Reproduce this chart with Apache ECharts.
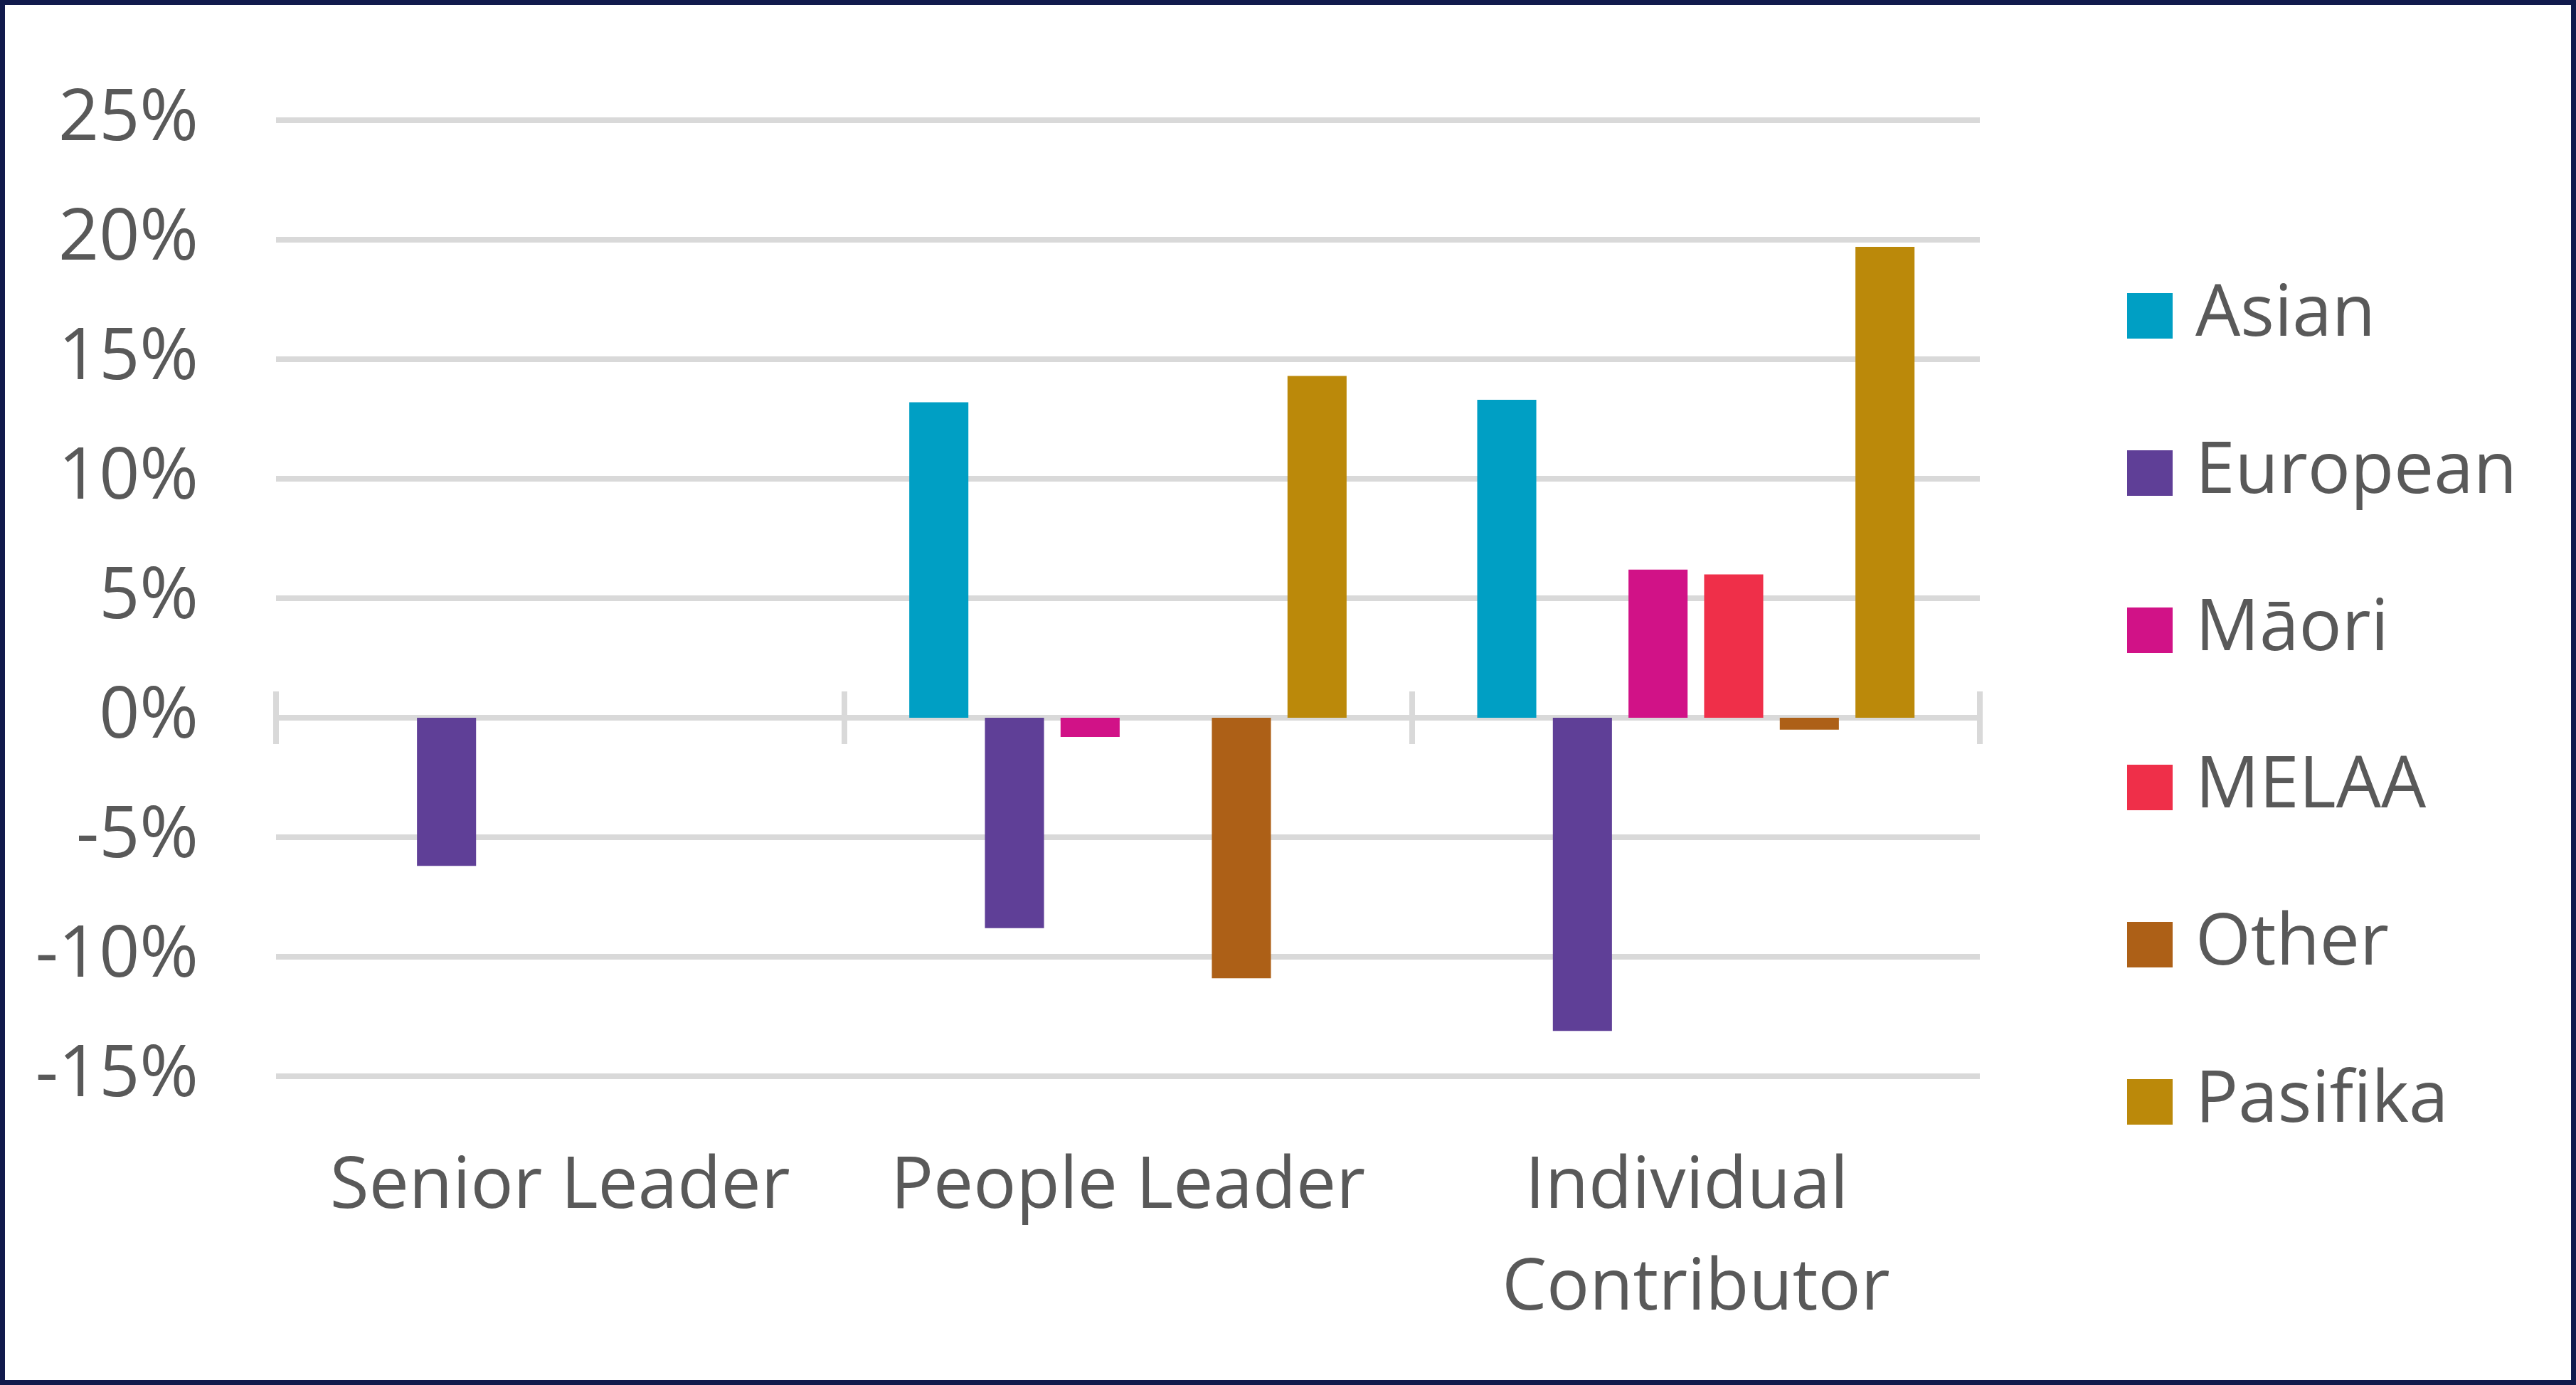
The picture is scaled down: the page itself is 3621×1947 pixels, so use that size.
<!DOCTYPE html>
<html>
<head>
<meta charset="utf-8">
<script src="https://cdn.jsdelivr.net/npm/echarts@6/dist/echarts.min.js"></script>
<style>
    html, body { margin: 0; padding: 0; background: #fff; }
    #main { position: absolute; left: 0; top: 0; width: 3621px; height: 1947px; }
    #frame {
        position: absolute; left: 0; top: 0; width: 3621px; height: 1947px;
        box-sizing: border-box; border: 7px solid #111a4c; pointer-events: none;
    }
</style>
</head>
<body>
<div id="main"></div>
<div id="frame"></div>
<script>
var categories = ['Senior Leader', 'People Leader', 'Individual Contributor'];

var asian    = [null, 13.2, 13.3];
var european = [-6.2, -8.8, -13.1];
var maori    = [null, -0.8, 6.2];
var melaa    = [null, null, 6.0];
var other    = [null, -10.9, -0.5];
var pasifika = [null, 14.3, 19.7];

var yMin = -15, yMax = 25, yStep = 5;

var color = ['#009fc4', '#5f3f97', '#d11287', '#ef2f49', '#ad6017', '#bb890a'];

var myChart = echarts.init(document.getElementById('main'));

var textColor = '#595959';
var font = 'Open Sans';

// plot area
var gLeft = 388, gRight = 838, gTop = 169, gBottom = 434;
var plotH = 1947 - gTop - gBottom;
// y pixel of the zero line, used only to place the strip that carries the cross ticks
var zeroY = gTop + plotH * yMax / (yMax - yMin);
var tickLen = 37;

function bar(name, data) {
    return {
        name: name,
        type: 'bar',
        barCategoryGap: '23%',
        barGap: '28%',
        data: data
    };
}

var option = {
    backgroundColor: '#ffffff',
    color: color,
    animation: false,
    grid: [{
        left: gLeft,
        right: gRight,
        top: gTop,
        bottom: gBottom
    }, {
        // thin strip around the zero line for the category ticks
        left: gLeft,
        right: gRight,
        top: zeroY - tickLen,
        height: tickLen * 2
    }],
    legend: {
        orient: 'vertical',
        left: 2990,
        top: 394,
        padding: 0,
        itemWidth: 64,
        itemHeight: 64,
        itemGap: 121,
        icon: 'rect',
        textStyle: {
            fontFamily: font,
            fontSize: 100,
            lineHeight: 100,
            color: textColor,
            padding: [0, 0, 0, 27]
        }
    },
    xAxis: [{
        type: 'category',
        gridIndex: 0,
        data: categories,
        position: 'bottom',
        axisLine: { show: false, onZero: false },
        axisTick: { show: false },
        axisLabel: {
            interval: 0,
            margin: 85,
            color: textColor,
            fontFamily: font,
            fontSize: 100,
            lineHeight: 143,
            width: 780,
            overflow: 'break',
            verticalAlign: 'top'
        }
    }, {
        type: 'category',
        gridIndex: 1,
        data: categories,
        position: 'bottom',
        axisLine: { show: false, onZero: false },
        axisTick: {
            show: true,
            inside: true,
            interval: 0,
            length: tickLen * 2,
            lineStyle: { color: '#d9d9d9', width: 8 }
        },
        axisLabel: { show: false },
        splitLine: { show: false }
    }],
    yAxis: [{
        type: 'value',
        gridIndex: 0,
        min: yMin,
        max: yMax,
        interval: yStep,
        axisLine: { show: false },
        axisTick: { show: false },
        axisLabel: {
            formatter: '{value}%',
            margin: 109,
            color: textColor,
            fontFamily: font,
            fontSize: 100
        },
        splitLine: {
            lineStyle: { color: '#d9d9d9', width: 8 }
        }
    }, {
        type: 'value',
        gridIndex: 1,
        show: false
    }],
    series: [
        bar('Asian', asian),
        bar('European', european),
        bar('Māori', maori),
        bar('MELAA', melaa),
        bar('Other', other),
        bar('Pasifika', pasifika)
    ]
};

myChart.setOption(option);
</script>
</body>
</html>
